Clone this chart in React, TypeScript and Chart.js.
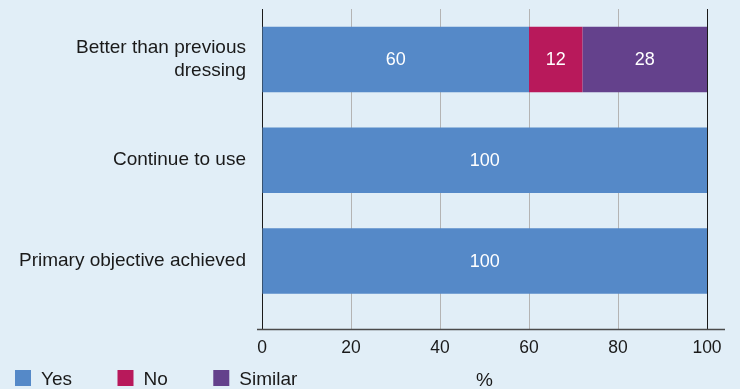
import { useEffect, useRef } from "react";
import { Chart, registerables } from "chart.js";

Chart.register(...registerables);

// Survey outcome categories (first one wraps onto two lines)
const categories: (string | string[])[] = [
  ["Better than previous", "dressing"],
  "Continue to use",
  "Primary objective achieved",
];
const yesValues = [60, 100, 100];
const noValues = [12, 0, 0];
const similarValues = [28, 0, 0];
const seriesNames = ["Yes", "No", "Similar"];
const seriesColors = ["#5589c8", "#b8195b", "#64418c"];
const xTickValues = [0, 20, 40, 60, 80, 100];
const axisTitle = "%";

const FONT = "'Liberation Sans', Arial, Helvetica, sans-serif";
const BG = "#e1eef7";
const TICK_LEN = 18;

// White value labels centred inside each non-empty bar segment
const valueLabels = {
  id: "valueLabels",
  afterDatasetsDraw(chart: Chart) {
    const ctx = chart.ctx;
    ctx.save();
    ctx.fillStyle = "#ffffff";
    ctx.font = `18px ${FONT}`;
    ctx.textAlign = "center";
    ctx.textBaseline = "middle";
    chart.data.datasets.forEach((ds, di) => {
      const meta = chart.getDatasetMeta(di);
      meta.data.forEach((el: any, i) => {
        const v = ds.data[i] as number;
        if (!v) return;
        ctx.fillText(String(v), (el.x + el.base) / 2, el.y + 1);
      });
    });
    ctx.restore();
  },
};

// Bottom axis rule drawn at the end of the extended tick marks
const axisRule = {
  id: "axisRule",
  afterDraw(chart: Chart) {
    const { ctx, chartArea } = chart;
    const y = chartArea.bottom + TICK_LEN;
    ctx.save();
    ctx.strokeStyle = "#4a4a4a";
    ctx.lineWidth = 1.6;
    ctx.beginPath();
    ctx.moveTo(chartArea.left - 5, y);
    ctx.lineTo(chartArea.right + 18, y);
    ctx.stroke();
    ctx.restore();
  },
};

// Legend row plus the unit label, both on the bottom line
const bottomRow = {
  id: "bottomRow",
  afterDraw(chart: Chart) {
    const { ctx, chartArea } = chart;
    const baseline = 384.5;
    ctx.save();
    ctx.font = `19px ${FONT}`;
    ctx.textAlign = "left";
    ctx.textBaseline = "alphabetic";
    let x = 15;
    chart.data.datasets.forEach((ds) => {
      ctx.fillStyle = ds.backgroundColor as string;
      ctx.fillRect(x, 370, 16, 16);
      ctx.fillStyle = "#1a1a1a";
      const label = ds.label ?? "";
      ctx.fillText(label, x + 26, baseline);
      x += 26 + ctx.measureText(label).width + 45.5;
    });
    ctx.textAlign = "center";
    ctx.fillText(axisTitle, (chartArea.left + chartArea.right) / 2, baseline + 1);
    ctx.restore();
  },
};

export default function App() {
  const canvasRef = useRef<HTMLCanvasElement>(null);

  useEffect(() => {
    document.body.style.margin = "0";
    document.body.style.background = BG;
    const canvas = canvasRef.current;
    if (!canvas) return;
    const values = [yesValues, noValues, similarValues];
    const chart = new Chart(canvas, {
      type: "bar",
      data: {
        labels: categories,
        datasets: seriesNames.map((name, i) => ({
          label: name,
          data: values[i],
          backgroundColor: seriesColors[i],
          borderWidth: 0,
          barPercentage: 0.65,
          categoryPercentage: 1,
        })),
      },
      options: {
        indexAxis: "y",
        animation: false,
        responsive: false,
        maintainAspectRatio: false,
        layout: { padding: { top: 9, right: 33, left: 0, bottom: 0 } },
        plugins: {
          legend: { display: false },
          tooltip: { enabled: false },
        },
        scales: {
          x: {
            stacked: true,
            min: 0,
            max: 100,
            afterBuildTicks: (scale: any) => {
              scale.ticks = xTickValues.map((v) => ({ value: v }));
            },
            afterFit: (scale: any) => {
              scale.height = 77.5;
            },
            border: { display: false },
            grid: {
              drawOnChartArea: true,
              drawTicks: true,
              tickLength: TICK_LEN,
              lineWidth: 1,
              color: (c: any) =>
                c.tick && (c.tick.value === 0 || c.tick.value === 100) ? "#1a1a1a" : "#b4b4b4",
            },
            ticks: {
              color: "#1a1a1a",
              padding: 8,
              font: { family: FONT, size: 17.5 },
            },
          },
          y: {
            stacked: true,
            afterFit: (scale: any) => {
              scale.width = 262;
              scale.paddingTop = 0;
              scale.paddingBottom = 0;
            },
            border: { display: false },
            grid: { display: false, drawTicks: false },
            ticks: {
              color: "#1a1a1a",
              padding: 16,
              font: { family: FONT, size: 19, lineHeight: 1.2 },
            },
          },
        },
      },
      plugins: [valueLabels, axisRule, bottomRow],
    });
    return () => chart.destroy();
  }, []);

  return (
    <div style={{ width: 740, height: 389, background: BG }}>
      <canvas ref={canvasRef} width={740} height={389} style={{ display: "block" }} />
    </div>
  );
}
